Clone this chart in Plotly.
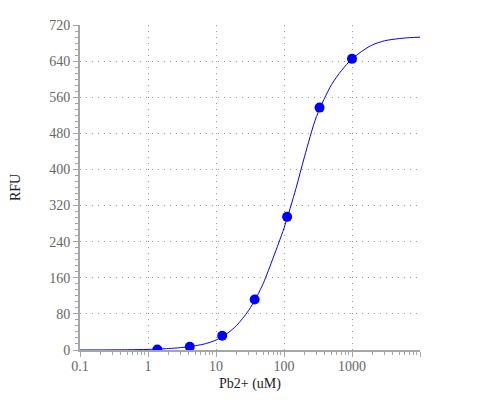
import plotly.graph_objects as go

# measured points (3-fold dilution of Pb2+)
conc = [1.372, 4.115, 12.35, 37.04, 111.1, 333.3, 1000]
rfu = [1, 7.3, 31.7, 112, 295, 537, 645]

# fitted curve
fit_x = [0.1, 0.2, 0.5, 1, 2, 3, 5, 7, 10, 15, 20, 30, 40, 50, 70, 100,
         150, 200, 300, 500, 700, 1000, 1500, 2000, 3000, 5000, 7000, 10000]
fit_y = [0.1, 0.2, 0.6, 1.3, 3.2, 5.2, 9.5, 14, 22, 38, 54, 87, 119, 149, 206, 270,
         358, 428, 517, 588, 619, 645, 665, 676, 685, 690, 692, 693]

x_ticks = [0.1, 1, 10, 100, 1000, 10000]
x_labels = ['0.1', '1', '10', '100', '1000', '']

font_family = 'Liberation Serif'
axis_col = '#a6a6a6'
grid_col = '#999999'

fig = go.Figure()
fig.add_trace(go.Scatter(x=fit_x, y=fit_y, mode='lines',
                         line=dict(color='#0000ff', width=1, shape='spline', smoothing=0.8),
                         showlegend=False))
fig.add_trace(go.Scatter(x=conc, y=rfu, mode='markers',
                         marker=dict(color='#0000ff', size=10), showlegend=False))

# page body adds 8px, so margins are shifted by that much
fig.update_layout(
    width=500, height=400,
    margin=dict(l=72, r=88, t=17, b=58),
    plot_bgcolor='white', paper_bgcolor='white',
    font=dict(family=font_family, size=14, color='#666666'),
    xaxis=dict(
        type='log', range=[-1, 4],
        tickmode='array', tickvals=x_ticks, ticktext=x_labels,
        showline=True, linecolor=axis_col, linewidth=2,
        ticks='outside', ticklen=5, tickcolor=axis_col, tickwidth=1,
        ticklabelstandoff=-3,
        showgrid=True, gridcolor=grid_col, griddash='1px,5px', gridwidth=1,
        minor=dict(ticks='outside', ticklen=3, dtick='D1', tickcolor=axis_col, showgrid=False),
        zeroline=False, automargin=False,
        title=dict(text='Pb2+ (uM)', font=dict(color='#222222', size=14), standoff=5),
    ),
    yaxis=dict(
        range=[0, 720], tickmode='linear', tick0=0, dtick=80,
        showline=True, linecolor=axis_col, linewidth=2,
        ticks='outside', ticklen=5, tickcolor=axis_col, tickwidth=1,
        showgrid=True, gridcolor=grid_col, griddash='1px,5px', gridwidth=1,
        minor=dict(ticks='outside', ticklen=3, tick0=0, dtick=40 / 3, tickcolor=axis_col, showgrid=False),
        zeroline=False, automargin=False,
        title=dict(text='RFU', font=dict(color='#222222', size=14), standoff=44),
    ),
)

fig.write_html('out.html')
